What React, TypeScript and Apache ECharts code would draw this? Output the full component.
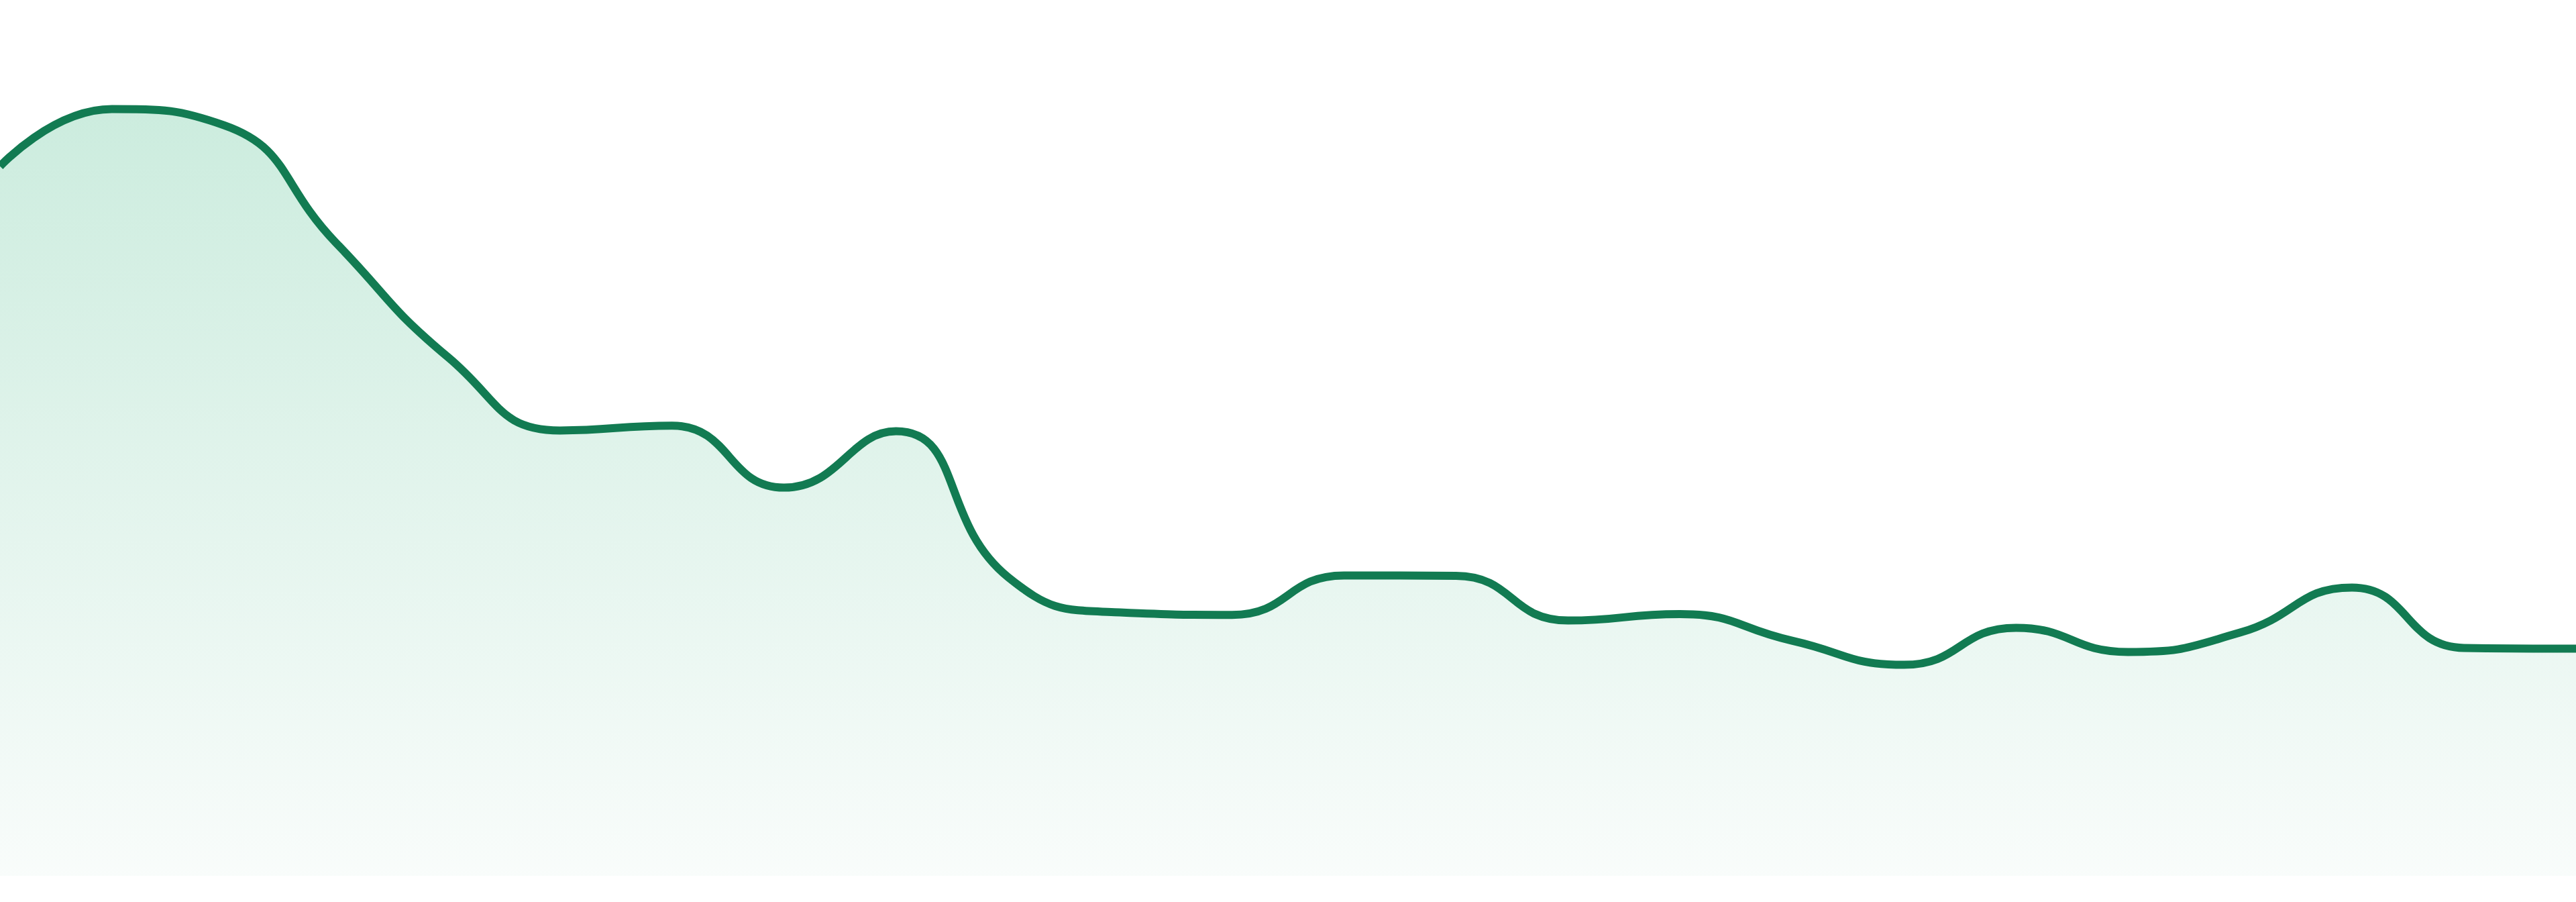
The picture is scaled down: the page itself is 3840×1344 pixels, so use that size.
import { useEffect, useRef } from "react";
import * as echarts from "echarts";

// 24 samples
const categories = [
  "1", "2", "3", "4", "5", "6", "7", "8", "9", "10", "11", "12",
  "13", "14", "15", "16", "17", "18", "19", "20", "21", "22", "23", "24",
];

const values = [
  88.1, 95.2, 93.2, 78.6, 64.4, 55.3, 55.9, 48.2, 55.2, 37.1, 32.7, 32.4,
  37.3, 37.25, 31.7, 32.5, 29.2, 26.2, 30.8, 27.8, 30.2, 35.8, 28.3, 28.2,
];

const yMin = 0;
const yMax = 100;

export default function App() {
  const ref = useRef<HTMLDivElement>(null);

  useEffect(() => {
    if (!ref.current) return;
    const chart = echarts.init(ref.current, undefined, { renderer: "svg" });
    chart.setOption({
      backgroundColor: "#ffffff",
      animation: false,
      grid: { left: 0, right: 0, top: 105, bottom: 39 },
      xAxis: {
        type: "category",
        data: categories,
        boundaryGap: false,
        show: false,
      },
      yAxis: {
        type: "value",
        min: yMin,
        max: yMax,
        show: false,
      },
      series: [
        {
          type: "line",
          data: values,
          smooth: true,
          showSymbol: false,
          lineStyle: { width: 12, color: "#127b52" },
          areaStyle: {
            color: new echarts.graphic.LinearGradient(0, 0, 0, 1, [
              { offset: 0, color: "#b6e4d0" },
              { offset: 1, color: "#f6fbf9" },
            ]),
          },
        },
      ],
    });
    return () => chart.dispose();
  }, []);

  return (
    <div
      ref={ref}
      style={{ position: "absolute", left: 0, top: 0, width: 3840, height: 1344 }}
    />
  );
}
